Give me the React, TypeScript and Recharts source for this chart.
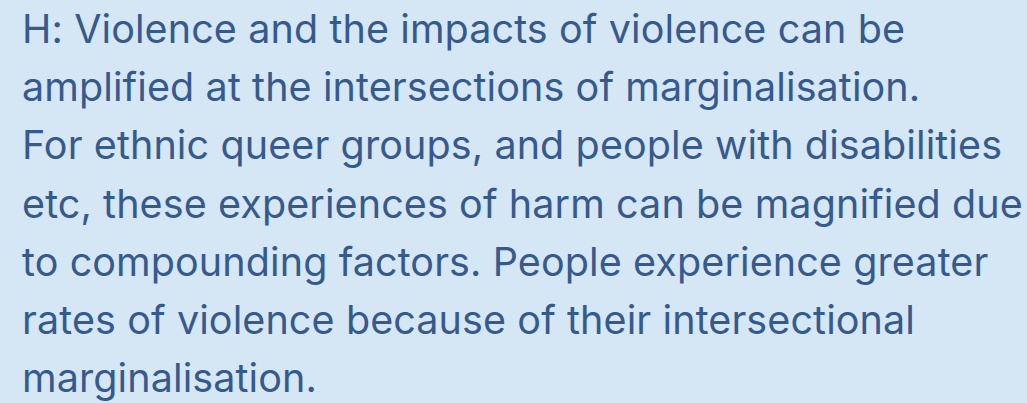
import React from 'react';
import { LineChart, Line, XAxis, YAxis } from 'recharts';

const lines = [
  'H: Violence and the impacts of violence can be',
  'amplified at the intersections of marginalisation.',
  'For ethnic queer groups, and people with disabilities',
  'etc, these experiences of harm can be magnified due',
  'to compounding factors. People experience greater',
  'rates of violence because of their intersectional',
  'marginalisation.',
];
const rows = lines.map((text, i) => ({ row: i + 1, text }));
const rowTicks = rows.map((r) => r.row);

const TextTick = (props: any) => {
  const { y, payload } = props;
  const label = lines[payload.value - 1];
  return (
    <text
      x={22}
      y={y}
      fill="#365a8c"
      fontSize={39.5}
      letterSpacing={0.1}
      fontFamily="Inter, 'Noto Sans', sans-serif"
      textAnchor="start"
    >
      {label}
    </text>
  );
};

const App = () => {
  return (
    <div style={{ width: 1027, height: 403, background: '#d5e6f5', position: 'absolute', left: 0, top: 0, overflow: 'hidden' }}>
      <style>{'body{margin:0;background:#d5e6f5;}'}</style>
      <LineChart width={1027} height={403} data={rows} margin={{ top: 0, right: 0, bottom: 0, left: 0 }}>
        <XAxis dataKey="text" hide />
        <YAxis
          type="number"
          domain={[0.2608, 7.189]}
          reversed
          ticks={rowTicks}
          interval={0}
          width={1}
          axisLine={false}
          tickLine={false}
          allowDataOverflow
          tick={<TextTick />}
        />
        <Line dataKey="row" stroke="none" dot={false} isAnimationActive={false} />
      </LineChart>
    </div>
  );
};

export default App;
